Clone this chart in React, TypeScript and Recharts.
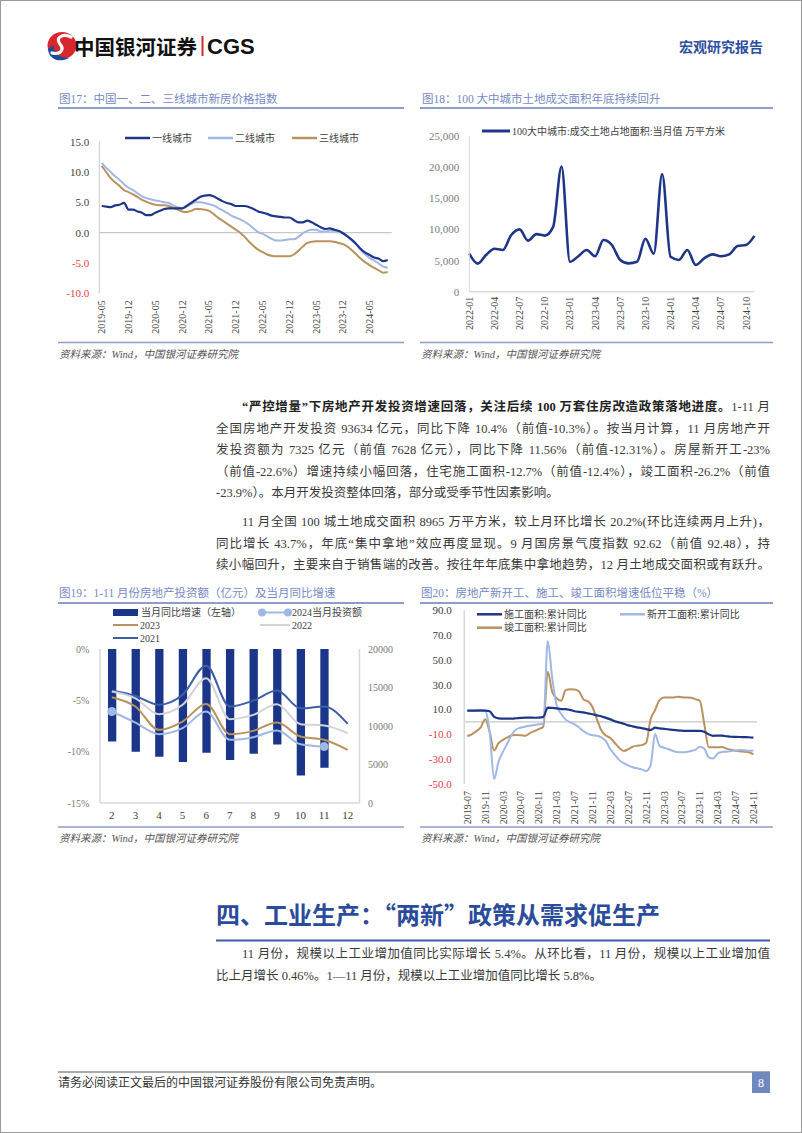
import type { ReactNode } from "react";
import {
  Bar,
  ComposedChart,
  Line,
  LineChart,
  ReferenceLine,
  XAxis,
  YAxis,
} from "recharts";

// 图17：一、二、三线城市新房价格指数（同比，%），2019-05 起按月
const PRICE_TICK_LABELS = [
  "2019-05", "2019-12", "2020-05", "2020-12", "2021-05", "2021-12",
  "2022-05", "2022-12", "2023-05", "2023-12", "2024-05",
];
const TIER1 = [
  4.4, 4.3, 4.2, 4.5, 4.6, 4.9, 3.8, 3.8, 3.5, 3.3, 2.9, 2.9, 3.3, 3.6, 3.9, 4.0,
  4.0, 4.0, 4.0, 4.4, 4.9, 5.4, 5.9, 6.1, 6.2, 6.0, 5.6, 5.2, 4.9, 4.7, 4.4, 4.4,
  4.4, 4.2, 3.9, 3.5, 3.3, 3.1, 2.8, 2.7, 2.6, 2.5, 2.5, 2.1, 1.7, 1.7, 2.0, 1.7,
  1.3, 0.9, 0.6, 0.7, 0.5, 0.3, -0.1, -0.6, -1.2, -1.9, -2.7, -3.3, -3.7, -4.1,
  -4.3, -4.7, -4.5,
];
const TIER2 = [
  11.5, 10.7, 10.0, 9.3, 8.7, 8.0, 7.4, 7.0, 6.5, 6.0, 5.7, 5.5, 5.3, 5.2, 5.0,
  4.9, 4.5, 4.2, 4.0, 4.3, 4.7, 5.0, 5.0, 4.9, 4.7, 4.5, 4.1, 3.7, 3.3, 2.8, 2.5,
  2.2, 1.8, 1.3, 0.7, 0.1, -0.2, -0.6, -1.0, -1.3, -1.3, -1.2, -1.1, -1.1, -0.7,
  -0.1, 0.3, 0.5, 0.5, 0.2, 0.2, 0.3, 0.3, 0.2, -0.1, -0.6, -1.3, -2.0, -2.9,
  -3.6, -4.2, -4.6, -5.1, -5.6, -5.8,
];
const TIER3 = [
  11.0, 10.0, 9.0, 8.3, 7.7, 7.0, 6.7, 6.3, 5.9, 5.4, 5.1, 4.8, 4.6, 4.5, 4.5,
  4.4, 4.1, 3.8, 3.5, 3.4, 3.6, 3.9, 3.9, 3.8, 3.6, 3.1, 2.5, 2.0, 1.5, 1.0, 0.5,
  0.0, -0.7, -1.5, -2.2, -2.8, -3.2, -3.6, -3.8, -3.9, -3.9, -3.9, -3.9, -3.6,
  -3.0, -2.3, -1.7, -1.5, -1.4, -1.4, -1.4, -1.4, -1.5, -1.7, -1.9, -2.3, -2.9,
  -3.6, -4.3, -4.9, -5.4, -5.8, -6.2, -6.6, -6.5,
];

// 图18：100大中城市成交土地占地面积，当月值（万平方米）
const LAND_MONTHS = [
  "2022-01", "2022-02", "2022-03", "2022-04", "2022-05", "2022-06", "2022-07",
  "2022-08", "2022-09", "2022-10", "2022-11", "2022-12", "2023-01", "2023-02",
  "2023-03", "2023-04", "2023-05", "2023-06", "2023-07", "2023-08", "2023-09",
  "2023-10", "2023-11", "2023-12", "2024-01", "2024-02", "2024-03", "2024-04",
  "2024-05", "2024-06", "2024-07", "2024-08", "2024-09", "2024-10", "2024-11",
];
const LAND_AREA = [
  6100, 4500, 5900, 6900, 6700, 9100, 10000, 8200, 9250, 9000, 10400, 20100,
  4800, 5700, 6700, 5700, 8300, 7500, 5100, 4550, 4800, 8500, 6100, 18900, 5600,
  5100, 6700, 4300, 5350, 6000, 5700, 6000, 7350, 7500, 8965,
];

// 图19：房地产开发投资，当月同比（%）与各年当月投资额（亿元）
const INV_MONTHS = ["2", "3", "4", "5", "6", "7", "8", "9", "10", "11", "12"];
const INV_YOY = [-9.0, -10.0, -10.5, -11.0, -10.1, -10.8, -10.2, -9.3, -12.31, -11.56, null];
const INV_2024 = [11880, 10450, 8940, 9720, 11880, 8210, 8550, 9420, 7628, 7325, null];
const INV_2023 = [13740, 12530, 9500, 10580, 12870, 8940, 9370, 10450, 8640, 8210, 6910];
const INV_2022 = [14470, 13600, 11530, 12750, 16200, 10890, 11450, 12830, 10240, 10070, 9070];
const INV_2021 = [14600, 13900, 12750, 14050, 17840, 12530, 13300, 14600, 12300, 12530, 10280];

// 图20：施工、新开工、竣工面积累计同比（%），2019-07 起按月
const AREA_TICK_LABELS = [
  "2019-07", "2019-11", "2020-03", "2020-07", "2020-11", "2021-03", "2021-07",
  "2021-11", "2022-03", "2022-07", "2022-11", "2023-03", "2023-07", "2023-11",
  "2024-03", "2024-07", "2024-11",
];
const CONSTRUCTION = [
  9.0, 9.0, 9.0, 9.0, 9.0, 8.5, 4.0, 2.8, 2.6, 2.6, 2.6, 2.9, 3.2, 3.4, 3.4, 3.3,
  3.4, 4.0, 11.5, 11.2, 10.8, 10.3, 10.3, 9.6, 8.5, 8.0, 7.6, 6.8, 6.1, 5.2, 4.4,
  3.2, 2.0, 0.5, -0.5, -1.5, -2.8, -3.6, -4.4, -5.0, -5.8, -6.5, -4.7, -5.2, -5.6,
  -6.0, -6.5, -6.9, -7.1, -7.3, -7.3, -7.3, -7.2, -8.0, -10.0, -11.2, -11.0,
  -11.1, -11.6, -12.0, -12.1, -12.2, -12.3, -12.4, -12.7,
];
const NEW_STARTS = [
  9.0, 9.0, 9.3, 9.8, 9.0, -8, -46, -32, -24, -17, -10, -6, -4.6, -3.8, -3.2,
  -2.6, -2.0, -1.3, 64.8, 35, 13, 6.5, 1.8, -0.3, -2, -4.5, -7.5, -9.6, -10.8,
  -11.2, -12.5, -15.5, -22, -26.5, -30.8, -33.2, -35, -36.5, -37.4, -38.2, -39.6,
  -35, -9.8, -19.5, -20.8, -22, -23.4, -24.3, -24.5, -24.3, -23.5, -22.5, -20,
  -21.5, -28.5, -29.5, -25.5, -24.2, -24.0, -23.5, -23.0, -22.6, -22.8, -23.2, -23.0,
];
const COMPLETED = [
  -11.4, -10, -7.5, -4.5, 2.0, -8, -23, -17, -14.5, -12.5, -10.8, -10.6, -10.8,
  -11.2, -9, -7.5, -5.8, -3.9, 40.4, 24, 19, 17, 25.5, 26.2, 26, 24.5, 18, 16.5,
  12, 2, -7, -11, -13, -17, -21, -23.4, -22, -20, -19.2, -18.7, -17, 2, 9.5,
  17.5, 19.5, 19.5, 19.5, 20.3, 19.8, 19.6, 19.4, 18.3, 17, -1.5, -20.5, -20.5,
  -20.5, -20.2, -21.5, -22.5, -23.2, -23.8, -24, -24.5, -26.2,
];

const priceData = TIER1.map((v, i) => ({ i, t1: v, t2: TIER2[i], t3: TIER3[i] }));
const landData = LAND_MONTHS.map((m, i) => ({ m, v: LAND_AREA[i] }));
const invData = INV_MONTHS.map((m, i) => ({
  m,
  yoy: INV_YOY[i],
  y2024: INV_2024[i],
  y2023: INV_2023[i],
  y2022: INV_2022[i],
  y2021: INV_2021[i],
}));
const areaData = CONSTRUCTION.map((v, i) => ({
  i,
  sg: v,
  xk: NEW_STARTS[i],
  jg: COMPLETED[i],
}));

const SERIF = '"Liberation Serif", "Noto Sans CJK SC", serif';
const CJK = '"Noto Sans CJK SC", sans-serif';

const NAVY = "#1F3688";
const LIGHT_BLUE = "#A1B8E4";
const TAN = "#B8925F";
const MID_BLUE = "#3E5EA8";
const PALE_GRAY = "#D3D3DA";
const AXIS_GRAY = "#C8C8C8";
const RED = "#E0404C";
const TITLE_BLUE = "#7689C2";
const RULE_BLUE = "#8E9DCB";
const TEXT = "#3a3a3a";

function rotTick(label: (v: any) => string, shift: number) {
  return (p: any) => {
    const y = p.y + shift;
    return (
      <text
        x={p.x}
        y={y}
        transform={`rotate(-90 ${p.x} ${y})`}
        textAnchor="end"
        dominantBaseline="central"
        fontSize={10}
        fontFamily={SERIF}
        fill="#404040">
        {label(p.payload.value)}
      </text>
    );
  };
}

function valueTick(
  fmt: (v: number) => string,
  color: (v: number) => string,
  size: number,
  anchor: "start" | "end" = "end",
) {
  return (p: any) => (
    <text
      x={p.x}
      y={p.y}
      textAnchor={anchor}
      dominantBaseline="central"
      fontSize={size}
      fontFamily={SERIF}
      fill={color(p.payload.value)}>
      {fmt(p.payload.value)}
    </text>
  );
}

const redNeg = (v: number) => (v < 0 ? RED : "#404040");

function PriceChart() {
  return (
    <LineChart
      width={360}
      height={230}
      data={priceData}
      margin={{ top: 21.7, right: 8.3, bottom: 16.7, left: 9.3 }}>
      <XAxis
        type="number"
        dataKey="i"
        domain={[-0.54, 64.9]}
        allowDataOverflow
        ticks={PRICE_TICK_LABELS.map((_, k) => k * 6)}
        interval={0}
        axisLine={false}
        tickLine={false}
        height={40}
        tick={rotTick((v) => PRICE_TICK_LABELS[v / 6], -1)}
      />
      <YAxis
        domain={[-10, 15]}
        ticks={[-10, -5, 0, 5, 10, 15]}
        width={50}
        axisLine={{ stroke: AXIS_GRAY }}
        tickLine={false}
        tickMargin={4}
        tick={valueTick((v) => v.toFixed(1), redNeg, 11)}
      />
      <ReferenceLine y={0} stroke={AXIS_GRAY} strokeWidth={1.2} />
      <Line dataKey="t3" type="monotone" stroke={TAN} strokeWidth={2} dot={false} isAnimationActive={false} />
      <Line dataKey="t2" type="monotone" stroke={LIGHT_BLUE} strokeWidth={2} dot={false} isAnimationActive={false} />
      <Line dataKey="t1" type="monotone" stroke={NAVY} strokeWidth={2.2} dot={false} isAnimationActive={false} />
    </LineChart>
  );
}

function LandChart() {
  return (
    <LineChart
      width={380}
      height={230}
      data={landData}
      margin={{ top: 16, right: 35.6, bottom: 16.3, left: 9.3 }}>
      <XAxis
        dataKey="m"
        interval={2}
        axisLine={{ stroke: "#D9D9D9", strokeWidth: 1.5 }}
        tickLine={false}
        height={42}
        tick={rotTick((v) => String(v), -3)}
      />
      <YAxis
        domain={[0, 25000]}
        ticks={[0, 5000, 10000, 15000, 20000, 25000]}
        width={50}
        axisLine={{ stroke: "#D9D9D9" }}
        tickLine={false}
        tickMargin={4}
        tick={valueTick((v) => v.toLocaleString("en-US"), () => "#7a7a7a", 11)}
      />
      <Line dataKey="v" type="monotone" stroke={NAVY} strokeWidth={2.6} dot={false} isAnimationActive={false} />
    </LineChart>
  );
}

function endDots(props: any) {
  const { cx, cy, index } = props;
  if (index !== 0 && index !== 9) return <g key={index} />;
  return <circle key={index} cx={cx} cy={cy} r={4.5} fill={LIGHT_BLUE} />;
}

function InvestChart() {
  return (
    <ComposedChart
      width={360}
      height={200}
      data={invData}
      margin={{ top: 9, right: 0.5, bottom: 12, left: 10 }}>
      <XAxis
        dataKey="m"
        axisLine={{ stroke: "#D9D9D9", strokeWidth: 1.5 }}
        tickLine={false}
        height={25}
        tick={{ fontSize: 11, fill: "#404040", fontFamily: SERIF }}
      />
      <YAxis
        yAxisId="left"
        domain={[-15, 0]}
        ticks={[-15, -10, -5, 0]}
        width={50}
        axisLine={{ stroke: "#D9D9D9", strokeWidth: 1.5 }}
        tickLine={false}
        tickMargin={4.7}
        tick={valueTick((v) => `${v}%`, () => "#7a7a7a", 10)}
      />
      <YAxis
        yAxisId="right"
        orientation="right"
        domain={[0, 20000]}
        ticks={[0, 5000, 10000, 15000, 20000]}
        width={40}
        axisLine={{ stroke: "#D9D9D9", strokeWidth: 1.5 }}
        tickLine={false}
        tickMargin={2.5}
        tick={valueTick((v) => String(v), () => "#7a7a7a", 10, "start")}
      />
      <Bar yAxisId="left" dataKey="yoy" fill="#1B3589" barSize={8.3} isAnimationActive={false} />
      <Line yAxisId="right" dataKey="y2021" type="monotone" stroke={MID_BLUE} strokeWidth={2} dot={false} isAnimationActive={false} />
      <Line yAxisId="right" dataKey="y2022" type="monotone" stroke={PALE_GRAY} strokeWidth={2} dot={false} isAnimationActive={false} />
      <Line yAxisId="right" dataKey="y2023" type="monotone" stroke={TAN} strokeWidth={2} dot={false} isAnimationActive={false} />
      <Line yAxisId="right" dataKey="y2024" type="monotone" stroke={LIGHT_BLUE} strokeWidth={2} dot={endDots} isAnimationActive={false} />
    </ComposedChart>
  );
}

function AreaChartYoY() {
  return (
    <LineChart
      width={380}
      height={240}
      data={areaData}
      margin={{ top: 10, right: 33, bottom: 11, left: 9.3 }}>
      <XAxis
        type="number"
        dataKey="i"
        domain={[-0.67, 64.8]}
        allowDataOverflow
        ticks={AREA_TICK_LABELS.map((_, k) => k * 4)}
        interval={0}
        axisLine={false}
        tickLine={false}
        height={45}
        tick={rotTick((v) => AREA_TICK_LABELS[v / 4], -1)}
      />
      <YAxis
        domain={[-50, 90]}
        ticks={[-50, -30, -10, 10, 30, 50, 70, 90]}
        width={45}
        axisLine={{ stroke: "#D9D9D9", strokeWidth: 1.5 }}
        tickLine={false}
        tickMargin={6.6}
        tick={valueTick((v) => v.toFixed(1), redNeg, 11)}
      />
      <ReferenceLine y={0} stroke={AXIS_GRAY} strokeWidth={1.2} />
      <Line dataKey="jg" type="monotone" stroke={TAN} strokeWidth={2} dot={false} isAnimationActive={false} />
      <Line dataKey="xk" type="monotone" stroke={LIGHT_BLUE} strokeWidth={2} dot={false} isAnimationActive={false} />
      <Line dataKey="sg" type="monotone" stroke={NAVY} strokeWidth={2.2} dot={false} isAnimationActive={false} />
    </LineChart>
  );
}

function LegendItem({ x, y, color, label, w = 25, width = 2.5 }: any) {
  return (
    <g>
      <line x1={x} y1={y} x2={x + w} y2={y} stroke={color} strokeWidth={width} />
      <text x={x + w + 2} y={y} dominantBaseline="central" fontSize={10} fontFamily={SERIF} fill="#404040">
        {label}
      </text>
    </g>
  );
}

function TextLine({
  x,
  y,
  w,
  last,
  children,
}: {
  x: number;
  y: number;
  w: number;
  last?: boolean;
  children: ReactNode;
}) {
  return (
    <div
      style={{
        position: "absolute",
        left: x,
        top: y - 11,
        width: w,
        height: 22,
        lineHeight: "22px",
        fontSize: 12.5,
        fontFamily: SERIF,
        color: TEXT,
        textAlign: last ? "left" : "justify",
        textAlignLast: last ? "left" : "justify",
      }}>
      {children}
    </div>
  );
}

const abs = (left: number, top: number) => ({ position: "absolute" as const, left, top });

export default function App() {
  return (
    <div
      style={{
        position: "absolute",
        left: 0,
        top: 0,
        width: 802,
        height: 1133,
        background: "#fff",
        overflow: "hidden",
      }}>
      <svg width={802} height={1133} style={abs(0, 0)}>
        <rect x={0.5} y={0.5} width={801} height={1132} fill="none" stroke="#9a9a9a" />

        {/* header */}
        <ellipse cx={62} cy={45.5} rx={14.5} ry={13.5} fill="#D7262D" />
        <path d="M48,49 C49,60 60,63 69,58 C60,58 54,54 53,45 Z" fill="#1B4B9C" />
        <path d="M71,37 C62,33 55,38 60,44 C65,50 60,55 52,53" fill="none" stroke="#fff" strokeWidth={3.2} strokeLinecap="round" />
        <text x={74} y={46} dominantBaseline="central" fontSize={20.5} fontWeight={700} fontFamily={CJK} fill="#111">
          中国银河证券
        </text>
        <rect x={201.5} y={36} width={2} height={20} fill="#D7262D" />
        <text x={207} y={46.5} dominantBaseline="central" fontSize={22} fontWeight={700} fontFamily='"Liberation Sans", sans-serif' fill="#111">
          CGS
        </text>
        <text x={679} y={46} dominantBaseline="central" fontSize={14} fontWeight={700} fontFamily={CJK} fill="#2E4F9E">
          宏观研究报告
        </text>

        {/* figure titles */}
        <text x={59} y={99} dominantBaseline="central" fontSize={11.5} fontFamily={SERIF} fill={TITLE_BLUE}>
          图17：中国一、二、三线城市新房价格指数
        </text>
        <text x={422} y={99} dominantBaseline="central" fontSize={11.5} fontFamily={SERIF} fill={TITLE_BLUE}>
          图18：100 大中城市土地成交面积年底持续回升
        </text>
        <line x1={58} y1={108} x2={404} y2={108} stroke={RULE_BLUE} strokeWidth={2} />
        <line x1={420} y1={108} x2={773} y2={108} stroke={RULE_BLUE} strokeWidth={2} />

        <text x={59} y={593} dominantBaseline="central" fontSize={11.5} fontFamily={SERIF} fill={TITLE_BLUE}>
          图19：1-11 月份房地产投资额（亿元）及当月同比增速
        </text>
        <text x={421} y={593} dominantBaseline="central" fontSize={11.5} fontFamily={SERIF} fill={TITLE_BLUE}>
          图20：房地产新开工、施工、竣工面积增速低位平稳（%）
        </text>
        <line x1={58} y1={603} x2={404} y2={603} stroke={RULE_BLUE} strokeWidth={2} />
        <line x1={420} y1={603} x2={773} y2={603} stroke={RULE_BLUE} strokeWidth={2} />

        {/* legends */}
        <LegendItem x={125} y={138} color={NAVY} label="一线城市" />
        <LegendItem x={208} y={138} color={LIGHT_BLUE} label="二线城市" />
        <LegendItem x={292} y={138} color={TAN} label="三线城市" />

        <LegendItem x={482} y={131} w={28} color={NAVY} width={3} label="100大中城市:成交土地占地面积:当月值 万平方米" />

        <rect x={113} y={609} width={25} height={7} fill="#1B3589" />
        <text x={141} y={612.5} dominantBaseline="central" fontSize={10} fontFamily={SERIF} fill="#404040">
          当月同比增速（左轴）
        </text>
        <line x1={260} y1={612.5} x2={290} y2={612.5} stroke={LIGHT_BLUE} strokeWidth={2} />
        <circle cx={262} cy={612.5} r={4} fill={LIGHT_BLUE} />
        <circle cx={288} cy={612.5} r={4} fill={LIGHT_BLUE} />
        <text x={292} y={612.5} dominantBaseline="central" fontSize={10} fontFamily={SERIF} fill="#404040">
          2024当月投资额
        </text>
        <LegendItem x={113} y={625} color={TAN} width={2} label="2023" />
        <LegendItem x={260} y={625} w={30} color={PALE_GRAY} width={2} label="2022" />
        <LegendItem x={113} y={638} color={MID_BLUE} width={2} label="2021" />

        <LegendItem x={477} y={614.3} color={NAVY} label="施工面积:累计同比" />
        <LegendItem x={620} y={614.3} color={LIGHT_BLUE} label="新开工面积:累计同比" />
        <LegendItem x={477} y={627.7} color={TAN} label="竣工面积:累计同比" />

        {/* sources */}
        <line x1={58} y1={342.5} x2={404} y2={342.5} stroke={RULE_BLUE} strokeWidth={1.5} />
        <line x1={420} y1={342.5} x2={773} y2={342.5} stroke={RULE_BLUE} strokeWidth={1.5} />
        <text x={59} y={354} dominantBaseline="central" fontSize={10.5} fontStyle="italic" fontFamily={SERIF} fill="#555">
          资料来源：Wind，中国银河证券研究院
        </text>
        <text x={421} y={354} dominantBaseline="central" fontSize={10.5} fontStyle="italic" fontFamily={SERIF} fill="#555">
          资料来源：Wind，中国银河证券研究院
        </text>
        <line x1={58} y1={827} x2={404} y2={827} stroke={RULE_BLUE} strokeWidth={1.5} />
        <line x1={420} y1={827} x2={773} y2={827} stroke={RULE_BLUE} strokeWidth={1.5} />
        <text x={59} y={838.5} dominantBaseline="central" fontSize={10.5} fontStyle="italic" fontFamily={SERIF} fill="#555">
          资料来源：Wind，中国银河证券研究院
        </text>
        <text x={421} y={838.5} dominantBaseline="central" fontSize={10.5} fontStyle="italic" fontFamily={SERIF} fill="#555">
          资料来源：Wind，中国银河证券研究院
        </text>

        {/* section heading */}
        <text x={216} y={913} dominantBaseline="central" fontSize={24} fontWeight={700} fontFamily={CJK} fill="#2B4B9B">
          四、工业生产：“两新”政策从需求促生产
        </text>
        <line x1={216} y1={940.5} x2={770} y2={940.5} stroke="#3D5CA6" strokeWidth={2} />

        {/* footer */}
        <line x1={58} y1={1072} x2={770} y2={1072} stroke="#555" strokeWidth={1} />
        <text x={58} y={1083} dominantBaseline="central" fontSize={12} fontFamily={SERIF} fill="#333">
          请务必阅读正文最后的中国银河证券股份有限公司免责声明。
        </text>
        <rect x={752} y={1072} width={18} height={21} fill="#7088C0" />
        <text x={761} y={1083} textAnchor="middle" dominantBaseline="central" fontSize={12} fontFamily={SERIF} fill="#fff">
          8
        </text>
      </svg>

      <div style={abs(40, 120)}>
        <PriceChart />
      </div>
      <div style={abs(410, 120)}>
        <LandChart />
      </div>
      <div style={abs(40, 640)}>
        <InvestChart />
      </div>
      <div style={abs(410, 600)}>
        <AreaChartYoY />
      </div>

      <TextLine x={242} y={407} w={528}>
        <b style={{ color: "#222" }}>
          “严控增量”下房地产开发投资增速回落，关注后续 100 万套住房改造政策落地进度。
        </b>
        1-11 月
      </TextLine>
      <TextLine x={216} y={428.5} w={554}>
        全国房地产开发投资 93634 亿元，同比下降 10.4%（前值-10.3%）。按当月计算，11 月房地产开
      </TextLine>
      <TextLine x={216} y={450} w={554}>
        发投资额为 7325 亿元（前值 7628 亿元），同比下降 11.56%（前值-12.31%）。房屋新开工-23%
      </TextLine>
      <TextLine x={216} y={471.5} w={554}>
        （前值-22.6%）增速持续小幅回落，住宅施工面积-12.7%（前值-12.4%），竣工面积-26.2%（前值
      </TextLine>
      <TextLine x={216} y={493} w={554} last>
        -23.9%）。本月开发投资整体回落，部分或受季节性因素影响。
      </TextLine>

      <TextLine x={242} y={522} w={528}>
        11 月全国 100 城土地成交面积 8965 万平方米，较上月环比增长 20.2%(环比连续两月上升)，
      </TextLine>
      <TextLine x={216} y={543.5} w={554}>
        同比增长 43.7%，年底“集中拿地”效应再度显现。9 月国房景气度指数 92.62（前值 92.48），持
      </TextLine>
      <TextLine x={216} y={565} w={554}>
        续小幅回升，主要来自于销售端的改善。按往年年底集中拿地趋势，12 月土地成交面积或有跃升。
      </TextLine>

      <TextLine x={242} y={954} w={528}>
        11 月份，规模以上工业增加值同比实际增长 5.4%。从环比看，11 月份，规模以上工业增加值
      </TextLine>
      <TextLine x={216} y={976} w={554} last>
        比上月增长 0.46%。1—11 月份，规模以上工业增加值同比增长 5.8%。
      </TextLine>
    </div>
  );
}
